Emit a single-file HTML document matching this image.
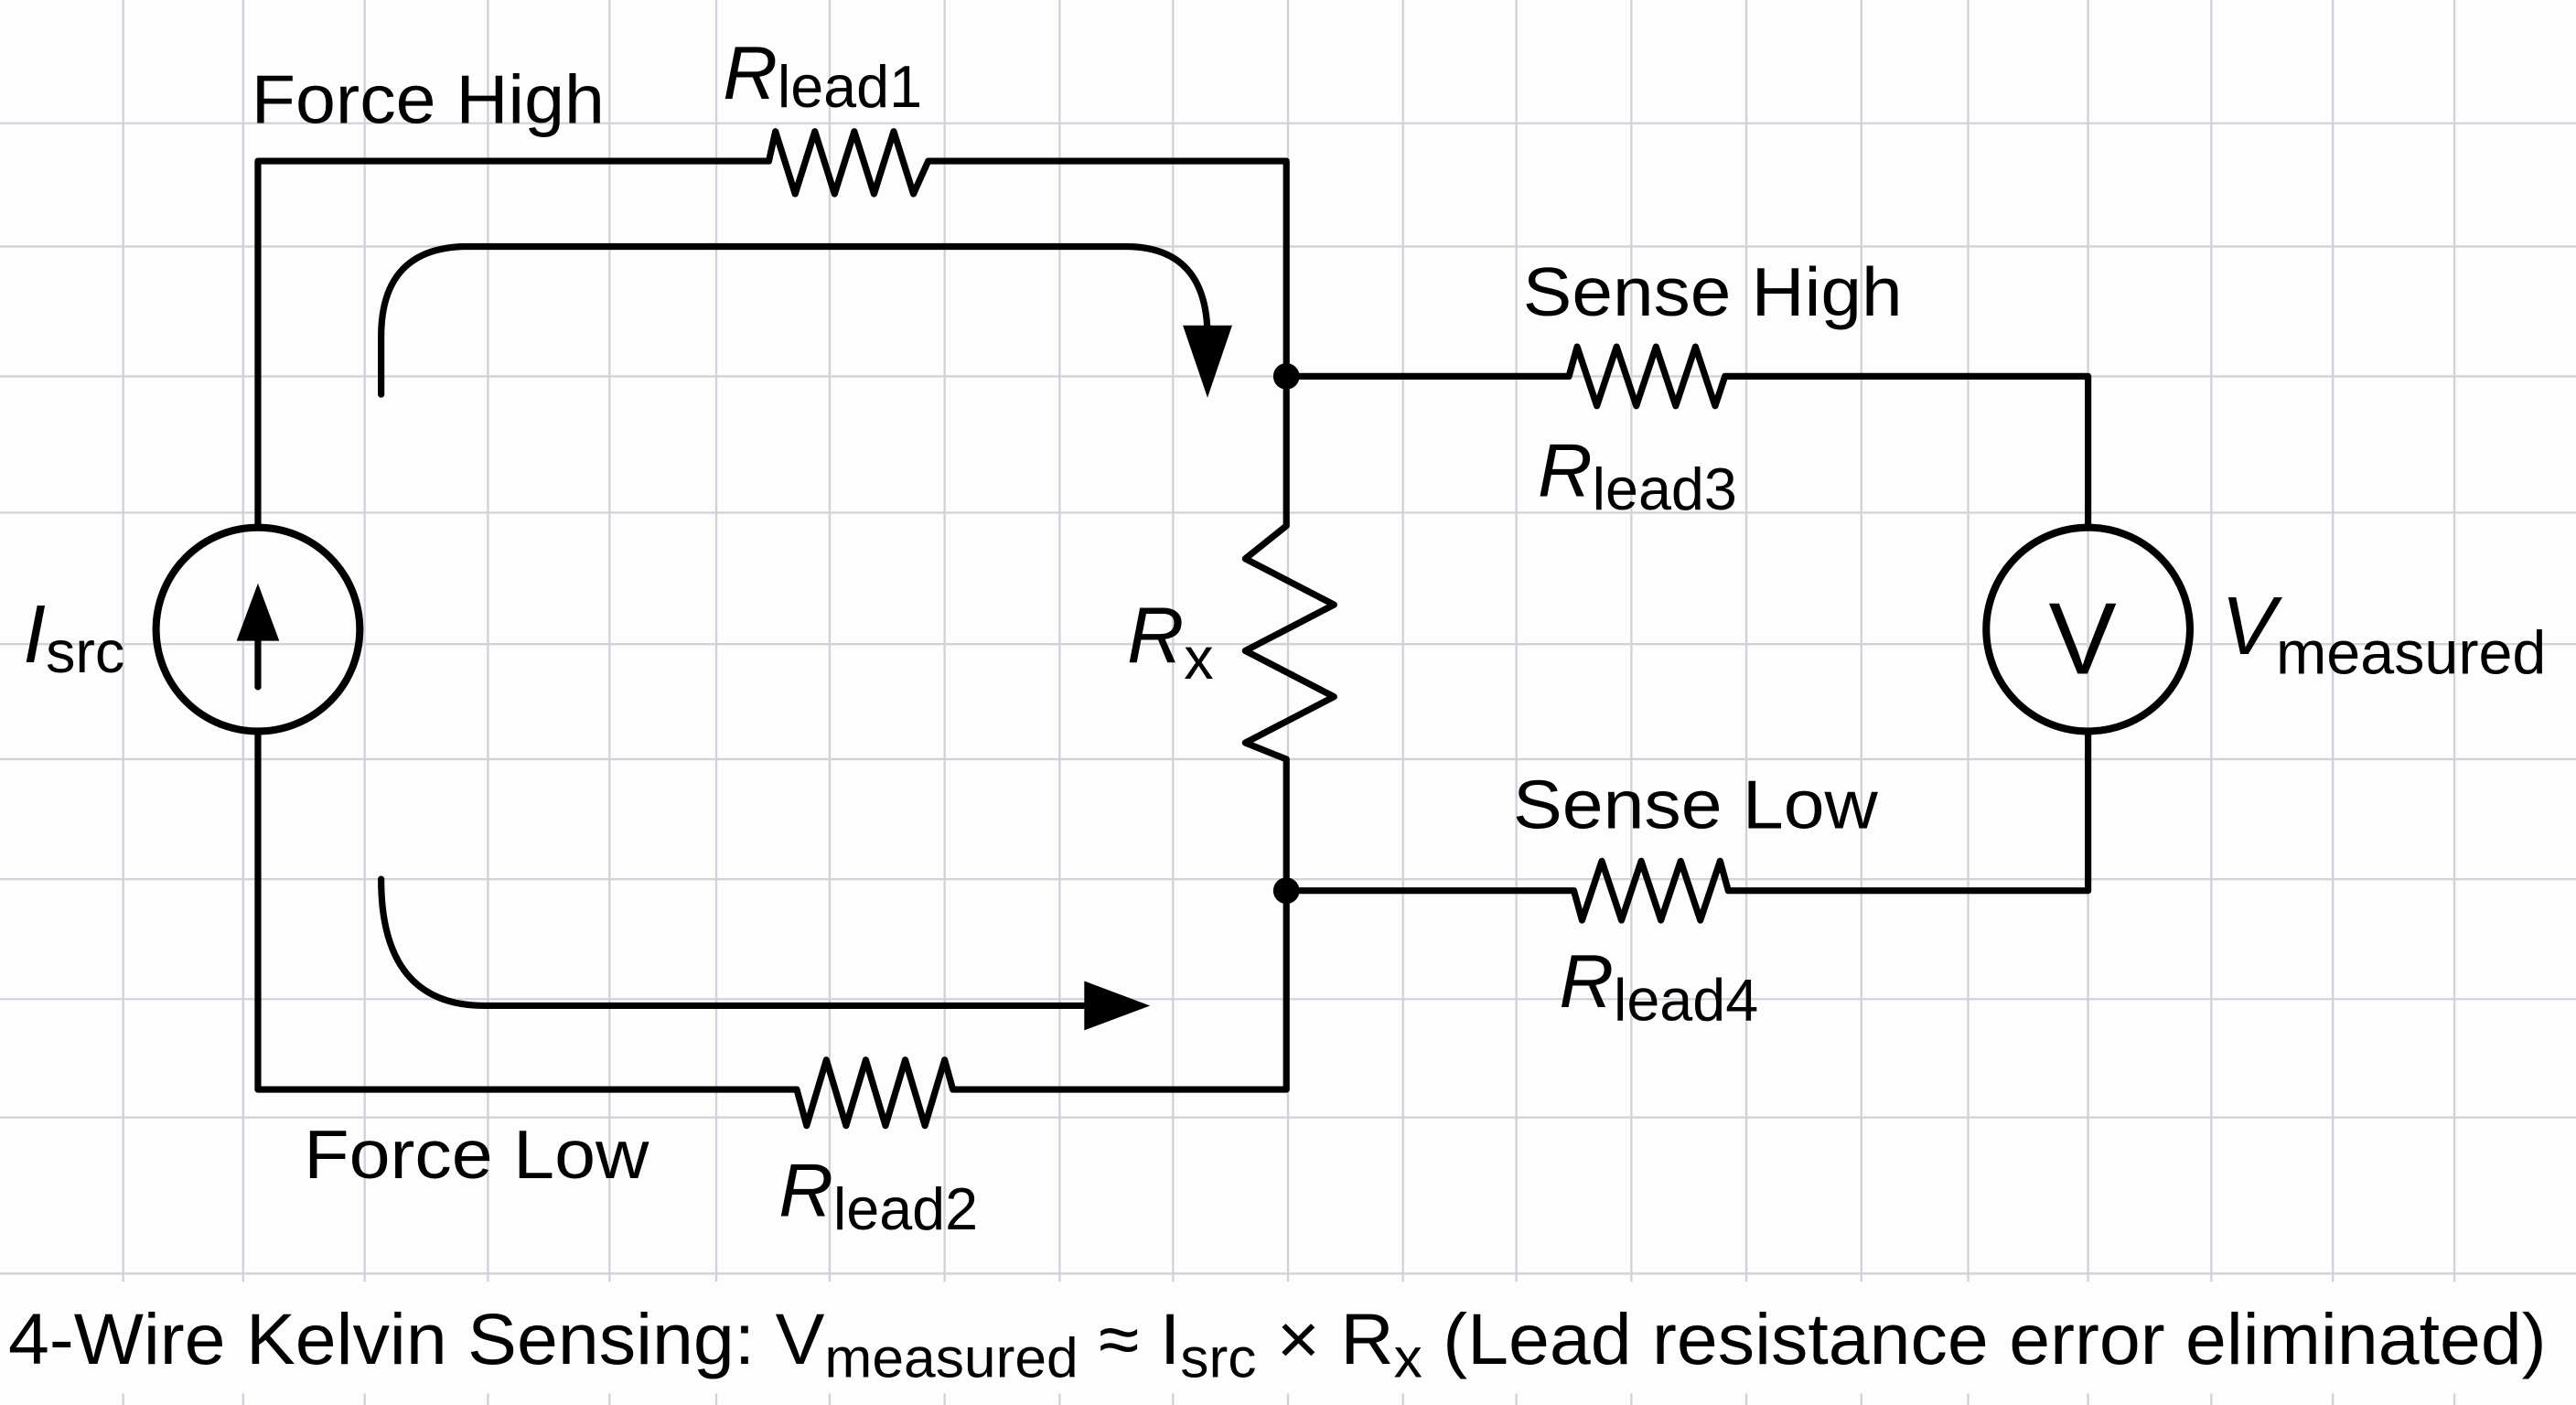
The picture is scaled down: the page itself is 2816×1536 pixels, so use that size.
<!DOCTYPE html>
<html><head><meta charset="utf-8"><style>html,body{margin:0;padding:0;background:#fff}svg{display:block}</style></head>
<body>
<svg width="2816" height="1536" viewBox="0 0 1568 855" preserveAspectRatio="none" xmlns="http://www.w3.org/2000/svg" font-family="Liberation Sans, Arial, sans-serif">
<rect width="1568" height="855" fill="#fdfdfd"/>
<g stroke="#d4d0d8" stroke-width="1.3">
<line x1="75" y1="0" x2="75" y2="855"/><line x1="148" y1="0" x2="148" y2="855"/><line x1="222" y1="0" x2="222" y2="855"/><line x1="297" y1="0" x2="297" y2="855"/><line x1="371" y1="0" x2="371" y2="855"/><line x1="436" y1="0" x2="436" y2="855"/><line x1="505" y1="0" x2="505" y2="855"/><line x1="575" y1="0" x2="575" y2="855"/><line x1="645" y1="0" x2="645" y2="855"/><line x1="714" y1="0" x2="714" y2="855"/><line x1="784" y1="0" x2="784" y2="855"/><line x1="854" y1="0" x2="854" y2="855"/><line x1="923" y1="0" x2="923" y2="855"/><line x1="993" y1="0" x2="993" y2="855"/><line x1="1063" y1="0" x2="1063" y2="855"/><line x1="1133" y1="0" x2="1133" y2="855"/><line x1="1198" y1="0" x2="1198" y2="855"/><line x1="1271" y1="0" x2="1271" y2="855"/><line x1="1346" y1="0" x2="1346" y2="855"/><line x1="1420" y1="0" x2="1420" y2="855"/><line x1="1494" y1="0" x2="1494" y2="855"/>
<line x1="0" y1="75" x2="1568" y2="75"/><line x1="0" y1="150" x2="1568" y2="150"/><line x1="0" y1="229" x2="1568" y2="229"/><line x1="0" y1="312" x2="1568" y2="312"/><line x1="0" y1="392" x2="1568" y2="392"/><line x1="0" y1="462" x2="1568" y2="462"/><line x1="0" y1="535" x2="1568" y2="535"/><line x1="0" y1="608" x2="1568" y2="608"/><line x1="0" y1="680" x2="1568" y2="680"/><line x1="0" y1="775" x2="1568" y2="775"/>
</g>
<rect x="0" y="780" width="1568" height="68" fill="#fdfdfd"/>
<g fill="none" stroke="#000" stroke-width="4" stroke-linejoin="round" stroke-linecap="round">
<path d="M157,320 V98 H468 L472,80 L484,118 L496,80 L508,118 L520,80 L532,118 L544,80 L556,118 L565,98 H783 V320 L758,340 L812,368 L758,396 L812,424 L758,452 L783,462 V663 H580 L575,645 L563,685 L551,645 L539,685 L527,645 L515,685 L503,645 L491,685 L485,663 H157 V446"/>
<path d="M783,229 H955 L960,211 L972,247 L984,211 L996,247 L1008,211 L1020,247 L1032,211 L1044,247 L1050,229 H1271 V320"/>
<path d="M1271,446 V542 H1052 L1047,524 L1035,560 L1023,524 L1011,560 L999,524 L987,560 L975,524 L963,560 L958,542 H783"/>
<circle cx="157" cy="383" r="62" stroke-width="4.5"/>
<circle cx="1271" cy="383" r="62" stroke-width="4.5"/>
<line x1="157" y1="418" x2="157" y2="380"/>
<path d="M232,240 V205 Q232,150 285,150 H685 Q735,150 735,205 V212"/>
<path d="M232,535 Q232,612 295,612 H665"/>
</g>
<polygon points="157,355 144,390 170,390" fill="#000"/>
<polygon points="720,198 750,198 735,242" fill="#000"/>
<polygon points="660,597 660,627 700,612" fill="#000"/>
<circle cx="783" cy="229" r="8" fill="#000"/>
<circle cx="783" cy="542" r="8" fill="#000"/>
<g fill="#000" font-size="42">
<text x="153" y="75" textLength="215" lengthAdjust="spacingAndGlyphs">Force High</text>
<text x="440" y="60" font-size="46"><tspan font-style="italic">R</tspan><tspan font-size="36" dy="5">lead1</tspan></text>
<text x="927" y="192" textLength="231" lengthAdjust="spacingAndGlyphs">Sense High</text>
<text x="936" y="302" font-size="46"><tspan font-style="italic">R</tspan><tspan font-size="36" dy="8">lead3</tspan></text>
<text x="686" y="403" font-size="48"><tspan font-style="italic">R</tspan><tspan font-size="36" dy="10">x</tspan></text>
<text x="14" y="403" font-size="50"><tspan font-style="italic">I</tspan><tspan font-size="36" dy="6">src</tspan></text>
<text x="1247" y="410" font-size="62">V</text>
<text x="1352" y="398" font-size="50"><tspan font-style="italic">V</tspan><tspan font-size="37" dy="12">measured</tspan></text>
<text x="921" y="504" textLength="222" lengthAdjust="spacingAndGlyphs">Sense Low</text>
<text x="949" y="613" font-size="46"><tspan font-style="italic">R</tspan><tspan font-size="36" dy="8">lead4</tspan></text>
<text x="185" y="717" textLength="210" lengthAdjust="spacingAndGlyphs">Force Low</text>
<text x="474" y="740" font-size="46"><tspan font-style="italic">R</tspan><tspan font-size="36" dy="8">lead2</tspan></text>
<text x="5" y="830" font-size="44" textLength="1545" lengthAdjust="spacingAndGlyphs">4-Wire Kelvin Sensing: V<tspan font-size="34" dy="8">measured</tspan><tspan dy="-8"> ≈ I</tspan><tspan font-size="34" dy="8">src</tspan><tspan dy="-8"> × R</tspan><tspan font-size="34" dy="8">x</tspan><tspan dy="-8"> (Lead resistance error eliminated)</tspan></text>
</g>
</svg>
</body></html>
